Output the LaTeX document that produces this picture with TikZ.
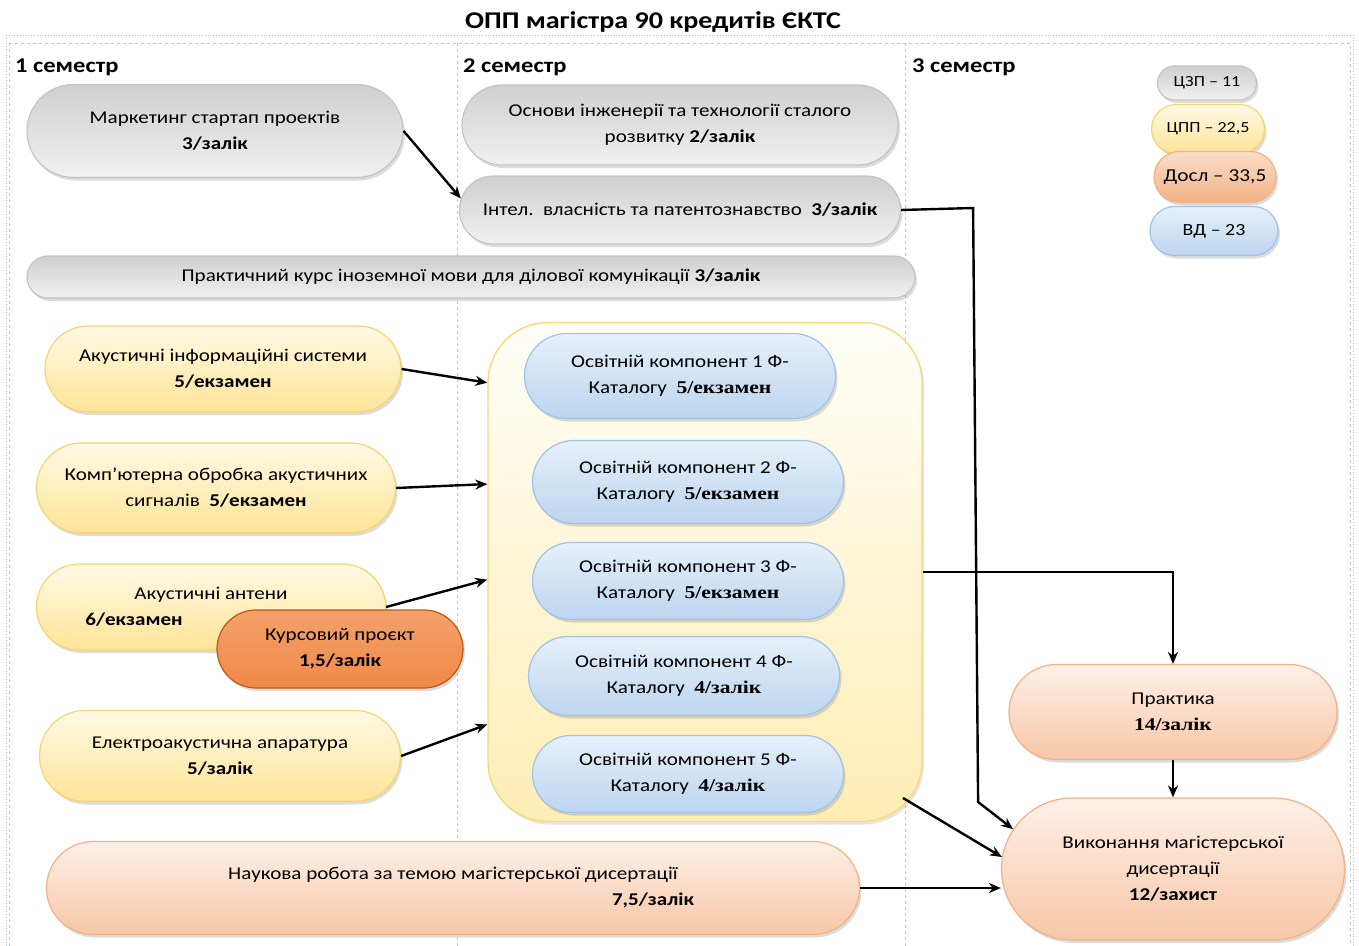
\documentclass[tikz,border=0pt]{standalone}
\usepackage{fontspec}
\setmainfont{Carlito}[FakeStretch=1.17]
\newfontfamily\cambria{Liberation Serif}[FakeStretch=1.2]
\usetikzlibrary{arrows.meta,shapes.misc,shadows}

\definecolor{greytop}{HTML}{CFCFCF}
\definecolor{greybot}{HTML}{F1F1F1}
\definecolor{greyline}{HTML}{C4C4C4}
\definecolor{yeltop}{HTML}{FFFAE6}
\definecolor{yelbot}{HTML}{FFE497}
\definecolor{yelline}{HTML}{F7D46E}
\definecolor{bluetop}{HTML}{E6F0FA}
\definecolor{bluebot}{HTML}{BCD5EF}
\definecolor{blueline}{HTML}{9FC3E6}
\definecolor{peachtop}{HTML}{FEF0E7}
\definecolor{peachbot}{HTML}{F7C7A6}
\definecolor{peachline}{HTML}{F3B185}
\definecolor{orangetop}{HTML}{F2A06A}
\definecolor{orangemid}{HTML}{ED7D31}
\definecolor{orangebot}{HTML}{F08A48}
\definecolor{orangeline}{HTML}{C0580F}
\definecolor{conttop}{HTML}{FFFEF8}
\definecolor{contbot}{HTML}{FFEDB5}
\definecolor{contline}{HTML}{F9D878}
\definecolor{dotblue}{HTML}{9CC2E8}

\tikzset{
  pill/.style={rounded rectangle, line width=1.2pt, align=center, inner sep=2pt,
    font=\fontsize{18}{26}\selectfont,
    drop shadow={shadow xshift=2pt,shadow yshift=-3pt,opacity=0.28}},
  greypill/.style={pill, draw=greyline, top color=greytop, bottom color=greybot},
  yellowpill/.style={pill, draw=yelline, top color=yeltop, bottom color=yelbot},
  bluepill/.style={pill, draw=blueline, top color=bluetop, bottom color=bluebot},
  peachpill/.style={pill, draw=peachline, top color=peachtop, bottom color=peachbot},
  orangepill/.style={pill, draw=orangeline, top color=orangetop, middle color=orangemid, bottom color=orangebot},
  contbox/.style={rectangle, rounded corners=60pt, line width=1.4pt, draw=contline,
    top color=conttop, bottom color=contbot,
    drop shadow={shadow xshift=2pt,shadow yshift=-3pt,opacity=0.2}},
  semlabel/.style={anchor=west, inner sep=0pt, font=\bfseries\fontsize{21}{24}\selectfont},
  arr/.style={-{Stealth[length=12pt,width=10pt]}, line width=2.4pt, black},
  frame/.style={gray!45, dashed, line width=0.7pt},
}

\begin{document}
\begin{tikzpicture}[x=1pt,y=-1pt]
  \useasboundingbox (0,0) rectangle (1359,945);
  % frame and semester columns
  \draw[dotblue, dotted, line width=0.8pt] (6,35) -- (1353,35) -- (1353,950);
  \draw[dotblue, dotted, line width=0.8pt] (6,35) -- (6,950);
  \draw[frame] (9,43) -- (1350,43) -- (1350,950);
  \draw[frame] (9,43) -- (9,950);
  \draw[frame] (457,43) -- (457,950);
  \draw[frame] (905,43) -- (905,950);

  \node[font=\bfseries\fontsize{24}{28}\selectfont] (title) at (653,22) {ОПП магістра 90 кредитів ЄКТС};
  \node[semlabel] (sem1) at (15,67) {1 семестр};
  \node[semlabel] (sem2) at (463,67) {2 семестр};
  \node[semlabel] (sem3) at (912,67) {3 семестр};

  % grey courses
  \node[greypill, minimum width=380, minimum height=93] (mkt) at (215,131) {Маркетинг стартап проектів\\\textbf{3/залік}};
  \node[greypill, minimum width=440, minimum height=80] (osn) at (680,125) {Основи інженерії та технології сталого\\розвитку \textbf{2/залік}};
  \node[greypill, minimum width=445, minimum height=68] (intel) at (680,210) {Інтел.\ \ власність та патентознавство\ \ \textbf{3/залік}};
  \node[greypill, minimum width=892, minimum height=42] (lang) at (471,277) {Практичний курс іноземної мови для ділової комунікації \textbf{3/залік}};

  % yellow courses
  \node[yellowpill, minimum width=360, minimum height=86] (aks) at (223,369) {Акустичні інформаційні системи\\\textbf{5/екзамен}};
  \node[yellowpill, minimum width=363, minimum height=90] (comp) at (216,488) {Комп'ютерна обробка акустичних\\сигналів\ \ \textbf{5/екзамен}};
  \node[yellowpill, minimum width=353, minimum height=86] (ant) at (211,607) {Акустичні антени\\\textbf{6/екзамен}\hspace*{154pt}};
  \node[orangepill, minimum width=250, minimum height=78] (kurs) at (340,649) {Курсовий проєкт\\\textbf{1,5/залік}};
  \node[yellowpill, minimum width=365, minimum height=91] (elec) at (220,756) {Електроакустична апаратура\\\textbf{5/залік}};

  % elective block
  \node[contbox, minimum width=434, minimum height=499] (cont) at (705,572) {};
  \foreach \i/\x/\y/\h/\crd/\fm in {1/680/376/85/5/екзамен, 2/688/482/83/5/екзамен, 3/688/581/77/5/екзамен, 4/684/676/79/4/залік, 5/688/774/77/4/залік}
    \node[bluepill, minimum width=315, minimum height=\h] (oc\i) at (\x,\y) {Освітній компонент \i\ Ф-\\Каталогу\ \ {\cambria\bfseries \crd/\fm}};

  % research and final
  \node[peachpill, minimum width=817, minimum height=93] (nauk) at (453,888) {Наукова робота за темою магістерської дисертації\\\hspace*{400pt}\textbf{7,5/залік}};
  \node[peachpill, minimum width=332, minimum height=95] (prak) at (1173,712) {Практика\\{\cambria\bfseries 14/залік}};
  \node[peachpill, minimum width=347, minimum height=142] (vyk) at (1173,869) {Виконання магістерської\\дисертації\\\textbf{12/захист}};

  % legend
  \node[greypill, minimum width=103, minimum height=34, font=\fontsize{15.4}{18}\selectfont] (czp) at (1207,83) {ЦЗП – 11};
  \node[yellowpill, minimum width=117, minimum height=49, font=\fontsize{15.4}{18}\selectfont] (cpp) at (1208,129) {ЦПП – 22,5};
  \node[peachpill, draw=peachline, top color=peachbot!60, bottom color=peachline, minimum width=126, minimum height=51, font=\fontsize{18.2}{22}\selectfont] (dosl) at (1215,177) {Досл – 33,5};
  \node[bluepill, minimum width=132, minimum height=49, font=\fontsize{17}{20}\selectfont] (vd) at (1214,231) {ВД – 23};

  % connectors
  \coordinate (contout) at (903,798);
  \draw[arr] (mkt.east) -- (intel.177);
  \draw[arr] (intel.east) -- ++(72,-2) -- ++(5,594) -- (vyk.166);
  \draw[arr] (aks.east) -- (cont.139.4);
  \draw[arr] (comp.east) -- (cont.158.7);
  \draw[arr] (ant.east) -- (cont.182.1);
  \draw[arr] (elec.east) -- (cont.215.9);
  \draw[arr, line width=2pt] (cont.east) -| (prak.north);
  \draw[arr] (contout) -- (vyk.176);
  \draw[arr] (nauk.east) -- (nauk.east -| vyk.west);
  \draw[arr] (prak.south) -- (vyk.north);
\end{tikzpicture}
\end{document}
